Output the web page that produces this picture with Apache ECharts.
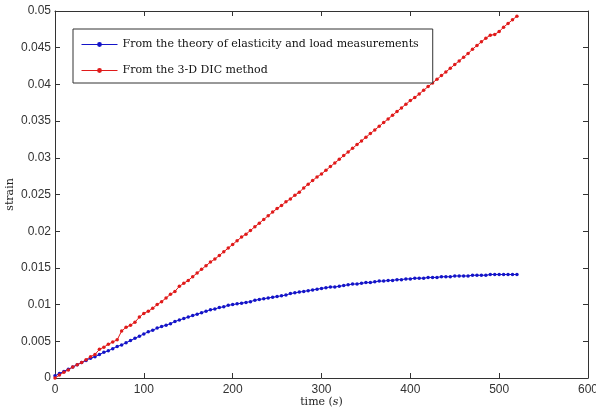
<!DOCTYPE html>
<html>
<head>
<meta charset="utf-8">
<script src="https://cdn.jsdelivr.net/npm/echarts@6/dist/echarts.min.js"></script>
<style>html,body{margin:0;padding:0;background:#fff}#c{width:596px;height:412px}</style>
</head>
<body>
<div id="c"></div>
<script>
const times = [0,5,10,15,20,25,30,35,40,45,50,55,60,65,70,75,80,85,90,95,100,105,110,115,120,125,130,135,140,145,150,155,160,165,170,175,180,185,190,195,200,205,210,215,220,225,230,235,240,245,250,255,260,265,270,275,280,285,290,295,300,305,310,315,320,325,330,335,340,345,350,355,360,365,370,375,380,385,390,395,400,405,410,415,420,425,430,435,440,445,450,455,460,465,470,475,480,485,490,495,500,505,510,515,520];
const theory = [0.0003,0.0006,0.0009,0.0012,0.0015,0.0018,0.0021,0.0024,0.0027,0.0029,0.0032,0.0035,0.0037,0.0040,0.0043,0.0045,0.0048,0.0051,0.0054,0.0057,0.0060,0.0063,0.0065,0.0068,0.0070,0.0072,0.0074,0.0077,0.0079,0.0081,0.0083,0.0085,0.0087,0.0089,0.0091,0.0093,0.0094,0.0096,0.0097,0.0099,0.0100,0.0101,0.0102,0.0103,0.0104,0.0106,0.0107,0.0108,0.0109,0.0110,0.0111,0.0112,0.0113,0.0115,0.0116,0.0117,0.0118,0.0119,0.0120,0.0121,0.0122,0.0123,0.0124,0.0124,0.0125,0.0126,0.0127,0.0128,0.0128,0.0129,0.0130,0.0130,0.0131,0.0132,0.0132,0.0133,0.0133,0.0134,0.0134,0.0135,0.0135,0.0136,0.0136,0.0136,0.0137,0.0137,0.0137,0.0138,0.0138,0.0138,0.0139,0.0139,0.0139,0.0139,0.0140,0.0140,0.0140,0.0140,0.0141,0.0141,0.0141,0.0141,0.0141,0.0141,0.0141];
const dic = [0.0000,0.0004,0.0008,0.0011,0.0015,0.0018,0.0021,0.0025,0.0029,0.0032,0.0039,0.0042,0.0046,0.0049,0.0052,0.0064,0.0069,0.0072,0.0076,0.0083,0.0088,0.0091,0.0095,0.0100,0.0104,0.0109,0.0114,0.0118,0.0125,0.0129,0.0133,0.0138,0.0143,0.0148,0.0153,0.0158,0.0162,0.0167,0.0172,0.0177,0.0182,0.0187,0.0192,0.0196,0.0201,0.0206,0.0211,0.0216,0.0221,0.0226,0.0231,0.0235,0.0240,0.0244,0.0249,0.0253,0.0259,0.0264,0.0269,0.0274,0.0278,0.0283,0.0288,0.0293,0.0298,0.0303,0.0308,0.0313,0.0318,0.0323,0.0328,0.0333,0.0338,0.0343,0.0348,0.0353,0.0358,0.0363,0.0368,0.0373,0.0378,0.0382,0.0387,0.0392,0.0397,0.0402,0.0407,0.0412,0.0417,0.0422,0.0427,0.0432,0.0437,0.0442,0.0448,0.0453,0.0458,0.0463,0.0467,0.0468,0.0472,0.0478,0.0483,0.0488,0.0493];
const seriesNames = ['From the theory of elasticity and load measurements', 'From the 3-D DIC method'];
const xTicks = {min: 0, max: 600, interval: 100};
const yTicks = {min: 0, max: 0.05, interval: 0.005};

const chart = echarts.init(document.getElementById('c'), null, {renderer: 'canvas'});
const axisColor = '#333';
const serif = 'DejaVu Serif, serif';
const labelStyle = {color: '#333', fontFamily: 'Liberation Sans, Arial, sans-serif', fontSize: 12};
function pairs(ys){ return times.map((t,i)=>[t, ys[i]]); }
chart.setOption({
  animation: false,
  backgroundColor: '#fff',
  grid: {left: 55, right: 8, top: 11, bottom: 34, containLabel: false, outerBoundsMode: 'none'},
  legend: {
    orient: 'vertical', left: 73, top: 29,
    padding: [10, 14, 7, 8], itemGap: 15, itemWidth: 36, itemHeight: 6,
    borderColor: '#333', borderWidth: 1, backgroundColor: '#fff',
    lineStyle: {width: 1},
    textStyle: {fontFamily: serif, fontSize: 11, color: '#111'},
    data: seriesNames
  },
  xAxis: [{
    type: 'value', min: xTicks.min, max: xTicks.max, interval: xTicks.interval,
    name: 'time ({i|s})', nameLocation: 'middle', nameGap: 19, nameMoveOverlap: false,
    nameTextStyle: {fontFamily: serif, fontSize: 11, color: '#222',
      rich: {i: {fontStyle: 'italic', fontFamily: serif, fontSize: 11, color: '#222'}}},
    axisLine: {show: true, onZero: false, lineStyle: {color: axisColor, width: 1}},
    axisTick: {show: true, inside: true, length: 5, lineStyle: {color: axisColor}},
    axisLabel: Object.assign({margin: 6}, labelStyle),
    splitLine: {show: false}
  }, {
    type: 'value', position: 'top', min: xTicks.min, max: xTicks.max, interval: xTicks.interval,
    axisLine: {show: true, onZero: false, lineStyle: {color: axisColor, width: 1}},
    axisTick: {show: true, inside: true, length: 5, lineStyle: {color: axisColor}},
    axisLabel: {show: false}, splitLine: {show: false}
  }],
  yAxis: [{
    type: 'value', min: yTicks.min, max: yTicks.max, interval: yTicks.interval,
    name: 'strain', nameLocation: 'middle', nameGap: 39, nameMoveOverlap: false,
    nameTextStyle: {fontFamily: serif, fontSize: 11, color: '#222'},
    axisLine: {show: true, onZero: false, lineStyle: {color: axisColor, width: 1}},
    axisTick: {show: true, inside: true, length: 5, lineStyle: {color: axisColor}},
    axisLabel: Object.assign({margin: 4}, labelStyle),
    splitLine: {show: false}
  }, {
    type: 'value', position: 'right', min: yTicks.min, max: yTicks.max, interval: yTicks.interval,
    axisLine: {show: true, onZero: false, lineStyle: {color: axisColor, width: 1}},
    axisTick: {show: true, inside: true, length: 5, lineStyle: {color: axisColor}},
    axisLabel: {show: false}, splitLine: {show: false}
  }],
  series: [{
    name: seriesNames[0], type: 'line', data: pairs(theory),
    symbol: 'circle', symbolSize: 3.5, showSymbol: true,
    lineStyle: {color: '#1414c8', width: 1}, itemStyle: {color: '#1414c8'}
  }, {
    name: seriesNames[1], type: 'line', data: pairs(dic),
    symbol: 'circle', symbolSize: 3.5, showSymbol: true,
    lineStyle: {color: '#e01a1a', width: 1}, itemStyle: {color: '#e01a1a'}
  }]
});
</script>
</body>
</html>
